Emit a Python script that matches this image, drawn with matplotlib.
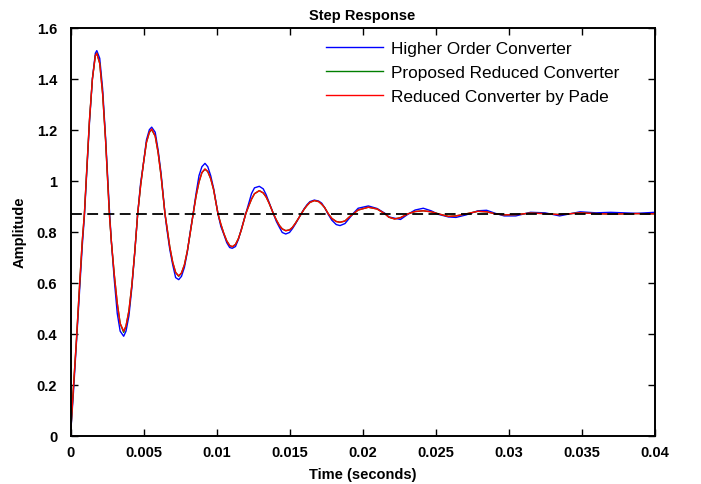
import matplotlib
matplotlib.use('Agg')
import matplotlib.pyplot as plt
import numpy as np

# time samples (seconds)
t = [0, 0.0002, 0.0004, 0.0006, 0.0008, 0.00095, 0.0011, 0.0013, 0.0015, 0.0017,
     0.0018, 0.002, 0.0022, 0.0024, 0.00266, 0.0028, 0.003, 0.0032, 0.0034, 0.00364,
     0.0038, 0.004, 0.0042, 0.0044, 0.0046, 0.0048, 0.005, 0.0052, 0.0054, 0.00556,
     0.0058, 0.006, 0.0062, 0.00647, 0.0066, 0.0068, 0.007, 0.0072, 0.00741, 0.0076,
     0.0078, 0.008, 0.0082, 0.0084, 0.0086, 0.0088, 0.009, 0.00921, 0.0094, 0.0096,
     0.0098, 0.0101, 0.0103, 0.0105, 0.0107, 0.0109, 0.01108, 0.0113, 0.0115, 0.0117,
     0.012, 0.0122, 0.0124, 0.0126, 0.01293, 0.0132, 0.0134, 0.0136, 0.0139, 0.0141,
     0.0143, 0.0145, 0.01474, 0.015, 0.0152, 0.0154, 0.0156, 0.0158, 0.016, 0.0162,
     0.0164, 0.0167, 0.017, 0.0172, 0.0174, 0.01766, 0.0179, 0.0182, 0.01846, 0.0188,
     0.0191, 0.01937, 0.0197, 0.0204, 0.021, 0.02154, 0.0218, 0.0222, 0.0226, 0.0231,
     0.0236, 0.02416, 0.0247, 0.0252, 0.02588, 0.0264, 0.0271, 0.0279, 0.0285, 0.0291,
     0.0297, 0.0305, 0.0315, 0.0325, 0.0335, 0.0349, 0.036, 0.037, 0.0388, 0.04]

higher_order = [0.0, 0.17, 0.36, 0.55, 0.74, 0.86, 1.02, 1.23, 1.40, 1.50,
                1.51, 1.48, 1.36, 1.17, 0.89, 0.76, 0.61, 0.48, 0.41, 0.39,
                0.41, 0.47, 0.58, 0.72, 0.87, 0.99, 1.07, 1.16, 1.20, 1.21,
                1.19, 1.12, 1.03, 0.87, 0.81, 0.73, 0.67, 0.62, 0.612, 0.625,
                0.66, 0.72, 0.80, 0.87, 0.95, 1.02, 1.055, 1.068, 1.055, 1.02,
                0.97, 0.87, 0.82, 0.79, 0.757, 0.738, 0.735, 0.742, 0.77, 0.81,
                0.87, 0.91, 0.95, 0.972, 0.978, 0.968, 0.945, 0.915, 0.87, 0.84,
                0.818, 0.797, 0.791, 0.797, 0.812, 0.83, 0.85, 0.87, 0.89, 0.906,
                0.918, 0.924, 0.92, 0.912, 0.895, 0.867, 0.845, 0.828, 0.824, 0.832,
                0.853, 0.872, 0.892, 0.901, 0.891, 0.872, 0.858, 0.853, 0.848, 0.868,
                0.885, 0.892, 0.882, 0.868, 0.858, 0.856, 0.866, 0.882, 0.884, 0.872,
                0.862, 0.862, 0.876, 0.874, 0.862, 0.878, 0.874, 0.876, 0.872, 0.876]

proposed = [0.0, 0.19, 0.37, 0.57, 0.76, 0.87, 1.03, 1.24, 1.40, 1.49,
            1.50, 1.46, 1.34, 1.16, 0.87, 0.76, 0.63, 0.52, 0.44, 0.405,
            0.43, 0.49, 0.59, 0.72, 0.87, 0.98, 1.07, 1.15, 1.19, 1.20,
            1.175, 1.11, 1.02, 0.87, 0.82, 0.74, 0.68, 0.64, 0.625, 0.638,
            0.67, 0.724, 0.795, 0.87, 0.94, 0.995, 1.032, 1.045, 1.036, 1.008,
            0.965, 0.87, 0.829, 0.793, 0.764, 0.746, 0.741, 0.75, 0.773, 0.807,
            0.87, 0.90, 0.928, 0.949, 0.961, 0.952, 0.936, 0.912, 0.87, 0.846,
            0.825, 0.811, 0.804, 0.807, 0.817, 0.833, 0.851, 0.87, 0.888, 0.903,
            0.915, 0.922, 0.918, 0.908, 0.895, 0.87, 0.852, 0.84, 0.837, 0.842,
            0.858, 0.87, 0.885, 0.896, 0.889, 0.87, 0.857, 0.850, 0.855, 0.87,
            0.879, 0.882, 0.878, 0.87, 0.860, 0.862, 0.87, 0.880, 0.878, 0.870,
            0.866, 0.867, 0.873, 0.871, 0.867, 0.874, 0.871, 0.869, 0.871, 0.870]

pade = [0.0, 0.19, 0.37, 0.57, 0.76, 0.87, 1.03, 1.24, 1.40, 1.49,
        1.50, 1.46, 1.34, 1.16, 0.87, 0.76, 0.63, 0.52, 0.44, 0.41,
        0.43, 0.49, 0.59, 0.72, 0.87, 0.98, 1.07, 1.15, 1.19, 1.203,
        1.175, 1.11, 1.02, 0.87, 0.82, 0.74, 0.68, 0.64, 0.627, 0.638,
        0.67, 0.724, 0.795, 0.87, 0.94, 0.995, 1.032, 1.046, 1.036, 1.008,
        0.965, 0.87, 0.829, 0.793, 0.764, 0.746, 0.741, 0.75, 0.773, 0.807,
        0.87, 0.90, 0.928, 0.949, 0.961, 0.952, 0.936, 0.912, 0.87, 0.846,
        0.825, 0.811, 0.804, 0.807, 0.817, 0.833, 0.851, 0.87, 0.888, 0.903,
        0.915, 0.922, 0.918, 0.908, 0.895, 0.87, 0.852, 0.84, 0.837, 0.842,
        0.858, 0.87, 0.885, 0.896, 0.889, 0.87, 0.857, 0.850, 0.855, 0.87,
        0.879, 0.882, 0.878, 0.87, 0.860, 0.862, 0.87, 0.880, 0.878, 0.870,
        0.866, 0.867, 0.873, 0.871, 0.867, 0.874, 0.871, 0.869, 0.871, 0.870]

final_value = 0.87

x_ticks = [0, 0.005, 0.01, 0.015, 0.02, 0.025, 0.03, 0.035, 0.04]
x_labels = ['0', '0.005', '0.01', '0.015', '0.02', '0.025', '0.03', '0.035', '0.04']
y_ticks = [0, 0.2, 0.4, 0.6, 0.8, 1, 1.2, 1.4, 1.6]
y_labels = ['0', '0.2', '0.4', '0.6', '0.8', '1', '1.2', '1.4', '1.6']

plt.rcParams['font.family'] = ['Liberation Sans', 'DejaVu Sans']

fig = plt.figure(figsize=(7.01, 4.85), dpi=100)
ax = fig.add_axes([0.1006, 0.0996, 0.8331, 0.8412])

ax.plot(t, higher_order, color='#0000ff', linewidth=1.0, label='Higher Order Converter')
ax.plot(t, proposed, color='#007f00', linewidth=1.0, label='Proposed Reduced Converter')
ax.plot(t, pade, color='#ff0000', linewidth=1.0, label='Reduced Converter by Pade')
ax.axhline(final_value, color='black', linestyle=(0, (6, 3)), linewidth=1.3)

ax.set_xlim(0, 0.04)
ax.set_ylim(0, 1.6)
ax.set_xticks(x_ticks)
ax.set_xticklabels(x_labels, fontweight='bold', fontsize=10.5)
ax.set_yticks(y_ticks)
ax.set_yticklabels(y_labels, fontweight='bold', fontsize=10.5)
ax.tick_params(direction='in', length=5, width=1, top=True, right=True)
ax.tick_params(axis='x', pad=6.5)
ax.tick_params(axis='y', pad=9.5)
for s in ax.spines.values():
    s.set_linewidth(1.4)

ax.set_xlabel('Time (seconds)', fontweight='bold', fontsize=10.5, labelpad=6)
ax.set_ylabel('Amplitude', fontweight='bold', fontsize=10.5, labelpad=7)
ax.set_title('Step Response', fontweight='bold', fontsize=10.5, pad=6)

ax.legend(loc='upper left', bbox_to_anchor=(0.4375, 0.967), frameon=False,
          fontsize=12.4, handlelength=3.3, handletextpad=0.5, labelspacing=0.5,
          borderpad=0, borderaxespad=0)

fig.savefig('out.png', dpi=100)
